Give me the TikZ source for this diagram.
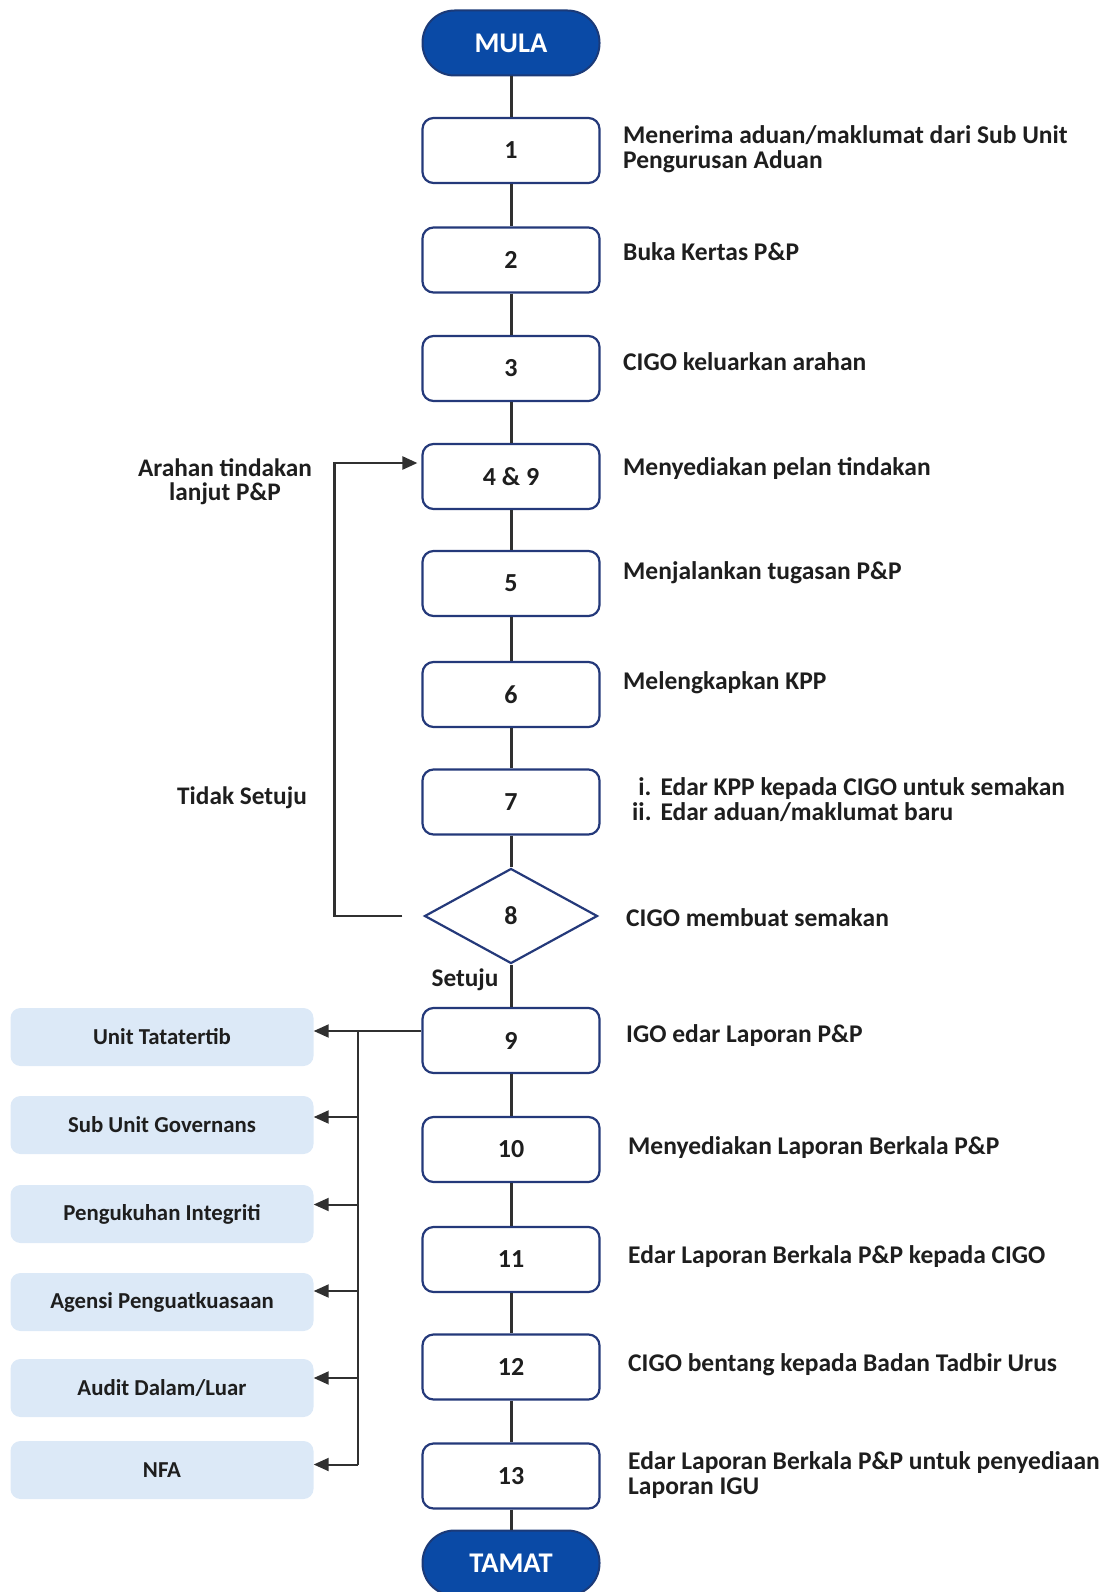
\documentclass[tikz,border=0pt]{standalone}
\usepackage{fontspec}
\setmainfont{Carlito}
\usetikzlibrary{shapes.geometric,arrows.meta,calc}

\definecolor{boxline}{HTML}{24397A}
\definecolor{termfill}{HTML}{0A4AA6}
\definecolor{termline}{HTML}{1B3A78}
\definecolor{flowline}{HTML}{303030}
\definecolor{tgtfill}{HTML}{DCE9F7}
\definecolor{ink}{HTML}{1E1E1E}

\tikzset{
  stepbox/.style={draw=boxline, line width=2.2pt, fill=white, rounded corners=11pt,
    minimum width=177pt, minimum height=65pt, inner sep=0pt,
    font=\fontsize{26}{28}\selectfont\bfseries, text=ink},
  terminal/.style={draw=termline, line width=2pt, fill=termfill, rounded corners=32pt,
    minimum width=177pt, minimum height=65pt, inner sep=0pt,
    font=\fontsize{28.5}{30}\selectfont\bfseries, text=white},
  decision/.style={draw=boxline, line width=2.2pt, fill=white, diamond, aspect=1.82,
    minimum width=173pt, minimum height=95pt, inner sep=0pt,
    font=\fontsize{26}{28}\selectfont\bfseries, text=ink},
  target/.style={fill=tgtfill, rounded corners=10pt, minimum width=303pt,
    minimum height=58pt, inner sep=0pt,
    font=\fontsize{22.8}{24}\selectfont\bfseries, text=ink},
  desc/.style={anchor=west, align=left, inner sep=0pt,
    font=\fontsize{25.5}{25.5}\selectfont\bfseries, text=ink},
  note/.style={align=center, inner sep=0pt,
    font=\fontsize{25.3}{24}\selectfont\bfseries, text=ink},
  flow/.style={draw=flowline, line width=3pt},
  arrowflow/.style={flow, -{Triangle[length=15pt,width=13pt]}},
}

\begin{document}
\begin{tikzpicture}[x=1pt,y=-1pt]
\useasboundingbox (0,0) rectangle (1109,1592);

% main column of steps
\node[terminal] (mula) at (511,43) {MULA};
\node[stepbox] (b1)  at (511,150.5) {1};
\node[stepbox] (b2)  at (511,260)   {2};
\node[stepbox] (b3)  at (511,368.5) {3};
\node[stepbox] (b49) at (511,476.5) {4 \& 9};
\node[stepbox] (b5)  at (511,583.5) {5};
\node[stepbox] (b6)  at (511,694.5) {6};
\node[stepbox] (b7)  at (511,802)   {7};
\node[decision] (b8) at (511,916)   {8};
\node[stepbox] (b9)  at (511,1040.5) {9};
\node[stepbox] (b10) at (511,1149.5) {10};
\node[stepbox] (b11) at (511,1259.5) {11};
\node[stepbox] (b12) at (511,1367)   {12};
\node[stepbox] (b13) at (511,1476)   {13};
\node[terminal] (tamat) at (511,1563) {TAMAT};

% vertical connectors
\foreach \a/\b in {mula/b1,b1/b2,b2/b3,b3/b49,b49/b5,b5/b6,b6/b7,b7/b8,b8/b9,b9/b10,b10/b11,b11/b12,b12/b13,b13/tamat}
  \draw[flow] (\a.south) -- (\b.north);

% descriptions on the right
\node[desc] (d1)  at (623,149)   {Menerima aduan/maklumat dari Sub Unit\\Pengurusan Aduan};
\node[desc] (d2)  at (623,252)   {Buka Kertas P\&P};
\node[desc] (d3)  at (623,361.5) {CIGO keluarkan arahan};
\node[desc] (d49) at (623,469)   {Menyediakan pelan tindakan};
\node[desc] (d5)  at (623,573)   {Menjalankan tugasan P\&P};
\node[desc] (d6)  at (623,682.5) {Melengkapkan KPP};
\node[desc] (d7)  at (632,803)   {\begin{tabular}{@{}r@{\hspace{9pt}}l@{}}
  i. & Edar KPP kepada CIGO untuk semakan\\
  ii. & Edar aduan/maklumat baru\end{tabular}};
\node[desc] (d8)  at (626,918)   {CIGO membuat semakan};
\node[desc] (d9)  at (626,1036)  {IGO edar Laporan P\&P};
\node[desc] (d10) at (628,1147.5){Menyediakan Laporan Berkala P\&P};
\node[desc] (d11) at (628,1257)  {Edar Laporan Berkala P\&P kepada CIGO};
\node[desc] (d12) at (628,1365)  {CIGO bentang kepada Badan Tadbir Urus};
\node[desc] (d13) at (628,1475)  {Edar Laporan Berkala P\&P untuk penyediaan\\Laporan IGU};

% feedback loop from the review back to step 4 & 9
\node[note] (lArahan) at (225,482) {Arahan tindakan\\lanjut P\&P};
\node[note] (lTidak)  at (242,798) {Tidak Setuju};
\node[note] (lSetuju) at (465,980) {Setuju};
\coordinate (fbstart) at ($(b8.west)+(-21pt,0)$);
\coordinate (fbcorner) at ($(b8.west)+(-89pt,0)$);
\coordinate (fbin) at ($(b49.west)+(0,13.5pt)$);
\draw[arrowflow, line width=2.4pt, shorten >=4pt] (fbstart) -- (fbcorner) |- (fbin);

% distribution of the P&P report
\node[target] (t1) at (162,1037) {Unit Tatatertib};
\node[target] (t2) at (162,1125) {Sub Unit Governans};
\node[target] (t3) at (162,1214) {Pengukuhan Integriti};
\node[target] (t4) at (162,1302) {Agensi Penguatkuasaan};
\node[target] (t5) at (162,1388) {Audit Dalam/Luar};
\node[target] (t6) at (162,1470) {NFA};

\coordinate (out9) at ($(b9.west)+(0,9.5pt)$);
\coordinate (a1) at ($(t1.east)+(0,6pt)$);
\coordinate (a2) at ($(t2.east)+(0,8pt)$);
\coordinate (a3) at ($(t3.east)+(0,9.5pt)$);
\coordinate (a4) at ($(t4.east)+(0,11pt)$);
\coordinate (a5) at ($(t5.east)+(0,10pt)$);
\coordinate (a6) at ($(t6.east)+(0,5.5pt)$);
\coordinate (bus) at (358,1031);
\draw[arrowflow, line width=2pt] (out9) -- (a1);
\draw[flow, line width=2pt] (bus) -- (bus |- a6);
\foreach \t in {a2,a3,a4,a5,a6}
  \draw[arrowflow, line width=2pt] (bus |- \t) -- (\t);
\end{tikzpicture}
\end{document}
